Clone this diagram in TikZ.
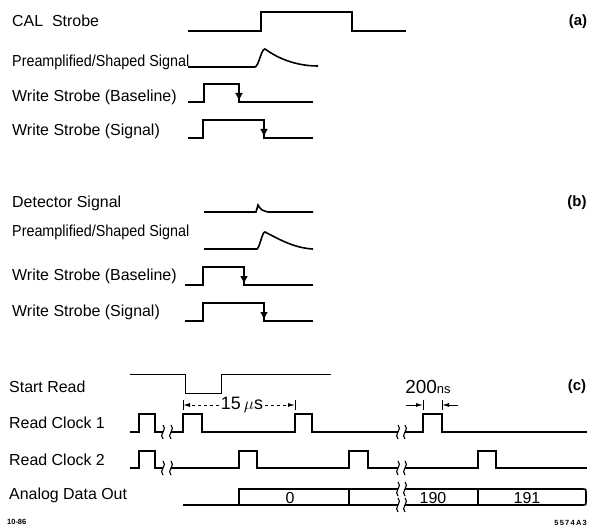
\documentclass[tikz,border=0pt]{standalone}
\usepackage{fontspec}
\setmainfont{Liberation Sans}
\usetikzlibrary{arrows.meta}
\tikzset{
  lbl/.style={anchor=west, inner sep=0pt, font=\fontsize{16}{18}\selectfont},
  tag/.style={inner sep=0pt, font=\fontsize{15}{17}\selectfont\bfseries},
  wave/.style={line width=1.6bp, line join=miter},
  thinwave/.style={line width=1bp},
  strb/.style={-{Latex[length=8bp,width=8bp]}, line width=1.6bp},
  dim/.style={-{Latex[length=7bp,width=4bp]}, line width=1bp},
  bar/.style={line width=1bp},
  brk/.style={line width=1.1bp},
  val/.style={inner sep=0pt, font=\fontsize{16}{18}\selectfont},
  foot/.style={inner sep=0pt, font=\fontsize{7.5}{9}\selectfont\bfseries},
}
% two squiggles of a time break at x=#1 and x=#2, line height #3
\newcommand\wavebreak[3]{%
  \draw[brk] (#1,#3-7) .. controls (#1+5,#3-3) and (#1-5,#3+3) .. (#1,#3+7);
  \draw[brk] (#2,#3-7) .. controls (#2+5,#3-3) and (#2-5,#3+3) .. (#2,#3+7);}
\newcommand\narrow[1]{\scalebox{0.9}[1]{#1}}

\begin{document}
\begin{tikzpicture}[x=1bp,y=-1bp]
\useasboundingbox (0,0) rectangle (589,531);
% (a) calibration
\node[lbl] (lcal) at (12,21) {CAL\ \ Strobe};
\node[lbl] (lpre1) at (12,62) {\narrow{Preamplified/Shaped Signal}};
\node[lbl] (lwsb1) at (12,97) {Write Strobe (Baseline)};
\node[lbl] (lwss1) at (12,131) {Write Strobe (Signal)};
\node[tag] (taga) at (578,22) {(a)};
\draw[wave] (188,31) -- (261,31) -- (261,12) -- (352,12) -- (352,31) -- (406,31);
\draw[wave] (188,67) -- (255,67) .. controls (259,66) and (261,49) .. (265,49) .. controls (276,57) and (294,66) .. (318,66);
\draw[wave] (188,102) -- (204,102) -- (204,84) -- (239,84) -- (239,102) -- (313,102);
\draw[strb] (239,86) -- (239,101);
\draw[wave] (188,138) -- (203,138) -- (203,120) -- (264,120) -- (264,138) -- (313,138);
\draw[strb] (264,122) -- (264,137);
% (b) detector
\node[lbl] (ldet) at (12,203) {Detector Signal};
\node[lbl] (lpre2) at (12,232) {\narrow{Preamplified/Shaped Signal}};
\node[lbl] (lwsb2) at (12,276) {Write Strobe (Baseline)};
\node[lbl] (lwss2) at (12,312) {Write Strobe (Signal)};
\node[tag] (tagb) at (577,203) {(b)};
\draw[wave] (204,212) -- (256,212) -- (258,205) .. controls (261,210) .. (268,212) -- (313,212);
\draw[wave] (204,249) -- (257,249) .. controls (260,247) and (262,232) .. (265,232) .. controls (277,238) and (293,248) .. (313,249);
\draw[wave] (185,285) -- (203,285) -- (203,267) -- (244,267) -- (244,285) -- (313,285);
\draw[strb] (244,269) -- (244,284);
\draw[wave] (185,321) -- (203,321) -- (203,303) -- (264,303) -- (264,321) -- (313,321);
\draw[strb] (264,305) -- (264,320);
% (c) readout
\node[lbl] (lsr) at (9,387) {Start Read};
\node[lbl] (lrc1) at (9,423) {Read Clock 1};
\node[lbl] (lrc2) at (9,460) {Read Clock 2};
\node[lbl] (lado) at (9,495) {Analog Data Out};
\node[tag] (tagc) at (577,387) {(c)};
\draw[thinwave] (130,374) -- (185,374) -- (185,393) -- (221,393) -- (221,374) -- (331,374);
\draw[wave] (130,432) -- (139,432) -- (139,414) -- (155,414) -- (155,432) -- (163,432);
\draw[wave] (171,432) -- (183,432) -- (183,414) -- (202,414) -- (202,432) -- (295,432) -- (295,414) -- (312,414) -- (312,432) -- (398,432);
\draw[wave] (405,432) -- (423,432) -- (423,414) -- (442,414) -- (442,432) -- (587,432);
\wavebreak{163}{171}{432}
\wavebreak{398}{405}{432}
\draw[wave] (130,468) -- (139,468) -- (139,451) -- (155,451) -- (155,468) -- (163,468);
\draw[wave] (171,468) -- (239,468) -- (239,451) -- (257,451) -- (257,468) -- (349,468) -- (349,451) -- (368,451) -- (368,468) -- (398,468);
\draw[wave] (405,468) -- (478,468) -- (478,451) -- (496,451) -- (496,468) -- (587,468);
\wavebreak{163}{171}{468}
\wavebreak{398}{405}{468}
\draw[wave] (183,505) -- (398,505);
\draw[wave] (398,489) -- (239,489) -- (239,505);
\draw[wave] (349,489) -- (349,505);
\draw[wave] (405,489) -- (583,489) .. controls (586,489) .. (586,492) -- (586,502) .. controls (586,505) .. (583,505) -- (405,505);
\draw[wave] (478,489) -- (478,505);
\wavebreak{398}{405}{489}
\wavebreak{398}{405}{505}
\node[val] (d0) at (290,498) {0};
\node[val] (d190) at (433,498) {190};
\node[val] (d191) at (527,498) {191};
% timing marks
\node[inner sep=2bp, font=\fontsize{18}{20}\selectfont] (t15) at (242,405) {15\,$\mu$s};
\coordinate (p15l) at (183,405);
\coordinate (p15r) at (295,405);
\draw[bar] (183,400) -- (183,410);
\draw[bar] (295,400) -- (295,410);
\draw[dim, dashed] (t15.west) -- (p15l);
\draw[dim, dashed] (t15.east) -- (p15r);
\node[inner sep=0pt] (t200) at (428,387) {\fontsize{19}{20}\selectfont 200\fontsize{13}{14}\selectfont ns};
\coordinate (a2l) at (406,405);
\coordinate (p2l) at (423,405);
\coordinate (a2r) at (458,405);
\coordinate (p2r) at (442,405);
\draw[bar] (423,400) -- (423,410);
\draw[bar] (442,400) -- (442,410);
\draw[dim] (a2l) -- (p2l);
\draw[dim] (a2r) -- (p2r);
% footer
\node[foot, anchor=west] (fig) at (7,522) {10-86};
\node[foot, anchor=east] (ref) at (587,523) {5\,5\,7\,4\,A\,3};
\end{tikzpicture}
\end{document}
